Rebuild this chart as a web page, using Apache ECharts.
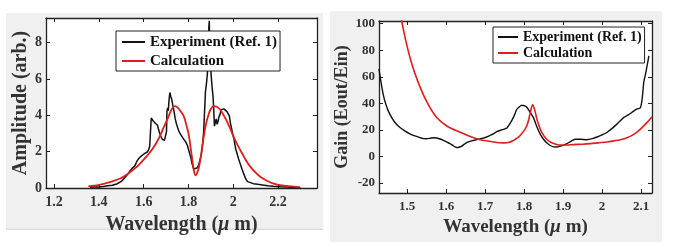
<!DOCTYPE html>
<html>
<head>
<meta charset="utf-8">
<script src="https://cdn.jsdelivr.net/npm/echarts@6/dist/echarts.min.js"></script>
<style>
html,body{margin:0;padding:0;background:#fff;}
#c{width:673px;height:242px;}
</style>
</head>
<body>
<div id="c"></div>
<script>
// ---- Data ----
const seriesNames = ['Experiment (Ref. 1)', 'Calculation'];

// Left panel: amplitude spectrum [wavelength (um), amplitude (arb.)]
const ampExperiment = [[1.36,0.04],[1.38,0.06],[1.40,0.05],[1.42,0.08],[1.44,0.12],[1.46,0.15],[1.48,0.22],[1.50,0.36],[1.515,0.55],[1.53,0.78],[1.54,0.95],[1.548,1.08],[1.553,0.98],[1.56,1.2],[1.571,1.5],[1.58,1.65],[1.593,1.8],[1.605,1.9],[1.616,1.98],[1.622,2.1],[1.627,2.3],[1.631,3.2],[1.634,3.85],[1.638,3.9],[1.642,3.7],[1.648,3.6],[1.653,3.55],[1.658,3.62],[1.662,3.45],[1.667,3.2],[1.672,3.0],[1.677,2.85],[1.683,2.68],[1.688,2.75],[1.693,2.62],[1.698,2.9],[1.702,3.1],[1.704,4.2],[1.707,4.4],[1.71,4.25],[1.713,4.8],[1.717,5.25],[1.721,5.05],[1.725,4.9],[1.728,4.7],[1.732,4.45],[1.736,4.2],[1.741,3.8],[1.747,3.5],[1.755,3.2],[1.762,3.0],[1.77,2.85],[1.778,2.7],[1.787,2.55],[1.795,2.35],[1.802,2.05],[1.81,1.7],[1.817,1.3],[1.823,1.05],[1.83,1.0],[1.838,1.1],[1.845,1.25],[1.852,1.55],[1.858,1.9],[1.864,2.5],[1.868,3.1],[1.872,4.2],[1.876,5.3],[1.88,5.7],[1.884,6.2],[1.887,6.8],[1.889,7.6],[1.891,8.8],[1.893,9.2],[1.895,8.0],[1.898,6.9],[1.902,6.1],[1.906,5.5],[1.91,5.0],[1.913,4.3],[1.916,3.4],[1.92,3.6],[1.924,3.8],[1.928,3.5],[1.932,3.65],[1.936,3.9],[1.941,4.05],[1.946,4.3],[1.952,4.4],[1.958,4.35],[1.965,4.3],[1.972,4.2],[1.978,4.1],[1.983,3.95],[1.987,3.6],[1.992,3.3],[1.998,2.95],[2.004,2.65],[2.01,2.2],[2.017,1.9],[2.024,1.6],[2.032,1.3],[2.04,1.0],[2.048,0.75],[2.056,0.5],[2.064,0.35],[2.072,0.28],[2.09,0.24],[2.11,0.2],[2.13,0.17],[2.155,0.13],[2.18,0.1],[2.21,0.07],[2.24,0.05],[2.27,0.03],[2.3,0.02]];
const ampCalculation = [[1.353,0.09],[1.38,0.13],[1.406,0.19],[1.43,0.26],[1.46,0.36],[1.495,0.52],[1.52,0.7],[1.54,0.88],[1.565,1.12],[1.585,1.36],[1.61,1.7],[1.63,1.99],[1.655,2.45],[1.674,2.9],[1.69,3.35],[1.704,3.73],[1.72,4.2],[1.73,4.42],[1.741,4.5],[1.752,4.42],[1.765,4.22],[1.779,3.95],[1.79,3.5],[1.801,2.95],[1.81,2.2],[1.82,1.3],[1.826,0.85],[1.831,0.7],[1.837,0.78],[1.846,1.1],[1.855,1.7],[1.862,2.3],[1.868,2.8],[1.878,3.5],[1.89,4.05],[1.9,4.35],[1.913,4.5],[1.928,4.45],[1.943,4.29],[1.958,3.98],[1.973,3.64],[1.988,3.22],[2.002,2.81],[2.02,2.34],[2.04,1.9],[2.058,1.5],[2.077,1.16],[2.1,0.84],[2.122,0.6],[2.15,0.4],[2.181,0.24],[2.21,0.16],[2.241,0.11],[2.27,0.07],[2.298,0.05]];

// Right panel: gain [wavelength (um), Eout/Ein]
const gainExperiment = [[1.428,66],[1.432,58],[1.439,46.4],[1.447,38],[1.456,31.7],[1.468,26],[1.481,22],[1.494,19.3],[1.507,17.1],[1.52,15.5],[1.533,14.2],[1.542,13.5],[1.55,13.4],[1.56,13.8],[1.568,14.2],[1.576,14.0],[1.585,13.2],[1.593,12.2],[1.601,11.0],[1.61,9.8],[1.618,8.2],[1.627,6.8],[1.633,7.0],[1.64,7.8],[1.648,9.5],[1.657,11.0],[1.667,12.0],[1.678,12.7],[1.69,13.5],[1.704,14.7],[1.713,16],[1.721,17.1],[1.73,18.8],[1.738,19.6],[1.747,20.5],[1.756,21.5],[1.762,24],[1.768,26.9],[1.775,31],[1.781,35.4],[1.788,37.5],[1.794,38.6],[1.8,38.3],[1.807,37.1],[1.815,33.5],[1.824,29.3],[1.832,23],[1.841,17.1],[1.85,13],[1.858,10.3],[1.866,8.5],[1.875,7.3],[1.884,7.2],[1.893,7.8],[1.902,8.6],[1.91,9.7],[1.92,11.5],[1.931,13.0],[1.945,13.0],[1.961,12.7],[1.975,13.5],[1.987,14.7],[2.0,16.3],[2.013,18.3],[2.025,21],[2.038,24.4],[2.047,27],[2.055,29.3],[2.068,31.5],[2.081,34.2],[2.09,35.8],[2.098,36.6],[2.101,40],[2.103,44],[2.105,50],[2.107,56.2],[2.112,63],[2.117,70.8],[2.12,75.7]];
const gainCalculation = [[1.478,112],[1.486,102],[1.498,85.5],[1.511,70.8],[1.528,56.2],[1.55,41.5],[1.576,29.3],[1.601,23.2],[1.636,18.3],[1.678,13.4],[1.721,11.0],[1.747,10.3],[1.763,10.8],[1.773,12.2],[1.783,14],[1.79,15.9],[1.8,19.5],[1.807,23.2],[1.812,28],[1.816,33],[1.822,39],[1.828,34.2],[1.833,28],[1.837,24.4],[1.843,19.5],[1.85,15.9],[1.858,13],[1.867,11.0],[1.88,9.5],[1.893,8.6],[1.91,8.7],[1.927,9.0],[1.95,9.3],[1.97,9.7],[1.99,10.3],[2.013,11.0],[2.03,11.8],[2.047,12.7],[2.062,14],[2.077,15.9],[2.09,18.5],[2.103,22],[2.115,25.5],[2.128,30]];

// Tick labels
const ampXTicks = [1.2, 1.4, 1.6, 1.8, 2, 2.2];
const ampYTicks = [0, 2, 4, 6, 8];
const gainXTicks = [1.5, 1.6, 1.7, 1.8, 1.9, 2, 2.1];
const gainYTicks = [-20, 0, 20, 40, 60, 80, 100];

// ---- Chart ----
const FONT = "'Liberation Serif','Times New Roman',serif";
const BLACK = '#111111';
const RED = '#e01c1c';

function fmt(v){ return String(+(+v).toFixed(2)); }

function xAx(grid, pos, min, max, ticks, fs, margin, named, nameGap, nfs){
  return {
    type:'value', gridIndex:grid, position:pos, min:min, max:max,
    axisLine:{show:true, onZero:false, lineStyle:{color:'#222', width:1.3}},
    splitLine:{show:false},
    axisTick:{show:true, inside:true, length:4, customValues:ticks, lineStyle:{color:'#222', width:1}},
    axisLabel:{show:named, customValues:ticks, formatter:fmt, margin:margin,
      fontFamily:FONT, fontWeight:'bold', fontSize:fs, color:'#333'},
    name: named ? 'Wavelength ({mu|μ} m)' : '',
    nameLocation:'middle', nameGap:nameGap,
    nameTextStyle:{fontFamily:FONT, fontWeight:'bold', fontSize:nfs, color:'#333',
      rich:{mu:{fontFamily:FONT, fontWeight:'bold', fontStyle:'italic', fontSize:nfs, color:'#333'}}}
  };
}
function yAx(grid, pos, min, max, ticks, fs, margin, name, nameGap, nfs){
  return {
    type:'value', gridIndex:grid, position:pos, min:min, max:max,
    axisLine:{show:true, onZero:false, lineStyle:{color:'#222', width:1.3}},
    splitLine:{show:false},
    axisTick:{show:true, inside:true, length:4, customValues:ticks, lineStyle:{color:'#222', width:1}},
    axisLabel:{show:!!name, customValues:ticks, formatter:fmt, margin:margin,
      fontFamily:FONT, fontWeight:'bold', fontSize:fs, color:'#333'},
    name: name || '', nameLocation:'middle', nameGap:nameGap,
    nameTextStyle:{fontFamily:FONT, fontWeight:'bold', fontSize:nfs, color:'#333'}
  };
}

const xA = [
  xAx(0,'bottom',1.164,2.374,ampXTicks,14,7,true,27,20),
  xAx(0,'top',1.164,2.374,ampXTicks,14,7,false,0,20),
  xAx(1,'bottom',1.428,2.128,gainXTicks,13,7,true,24,19),
  xAx(1,'top',1.428,2.128,gainXTicks,13,7,false,0,19)
];

const yA = [
  yAx(0,'left',0,9.35,ampYTicks,14,4,'Amplitude (arb.)',14,20),
  yAx(0,'right',0,9.35,ampYTicks,14,4,null,0,14),
  yAx(1,'left',-27.5,102,gainYTicks,13,4,'Gain (Eout/Ein)',28,18),
  yAx(1,'right',-27.5,102,gainYTicks,13,4,null,0,14)
];

function line(name, data, xi, yi, color, w, smooth){
  return {name:name, type:'line', data:data, xAxisIndex:xi, yAxisIndex:yi,
    showSymbol:false, symbol:'none', clip:true, color:color, smooth:smooth,
    lineStyle:{color:color, width:w}, itemStyle:{color:color}, animation:false};
}

const legendText = {fontFamily:FONT, fontWeight:'bold', color:'#111'};

const option = {
  animation:false,
  graphic:[
    {type:'rect', z:-100, shape:{x:6, y:13, width:317, height:216}, style:{fill:'#f0f0f0'}},
    {type:'rect', z:-100, shape:{x:6, y:228.5, width:317, height:1.5}, style:{fill:'#dcdcdc'}},
    {type:'rect', z:-100, shape:{x:330, y:11, width:332, height:231}, style:{fill:'#f0f0f0'}}
  ],
  grid:[
    {left:46, top:18, width:271, height:170, show:true, backgroundColor:'#ffffff', borderWidth:0},
    {left:379, top:21, width:273, height:176, show:true, backgroundColor:'#ffffff', borderWidth:0}
  ],
  xAxis:xA,
  yAxis:yA,
  legend:[
    {data:seriesNames, orient:'vertical', left:116, top:31, icon:'rect', itemWidth:23, itemHeight:2,
     itemGap:3, padding:[3,3,2,6], backgroundColor:'#fff', borderColor:'#222', borderWidth:1,
     textStyle:Object.assign({fontSize:15, lineHeight:16}, legendText), selectedMode:false},
    {data:seriesNames, orient:'vertical', left:493, top:27, icon:'rect', itemWidth:20, itemHeight:2,
     itemGap:2, padding:[3,3,3,5], backgroundColor:'#fff', borderColor:'#222', borderWidth:1,
     textStyle:Object.assign({fontSize:14, lineHeight:14}, legendText), selectedMode:false}
  ],
  series:[
    line(seriesNames[0], ampExperiment, 0, 0, BLACK, 1.5, false),
    line(seriesNames[1], ampCalculation, 0, 0, RED, 1.8, 0.35),
    line(seriesNames[0], gainExperiment, 2, 2, BLACK, 1.4, 0.2),
    line(seriesNames[1], gainCalculation, 2, 2, RED, 1.6, 0.35)
  ]
};

const chart = echarts.init(document.getElementById('c'), null, {renderer:'canvas'});
chart.setOption(option);
</script>
</body>
</html>
